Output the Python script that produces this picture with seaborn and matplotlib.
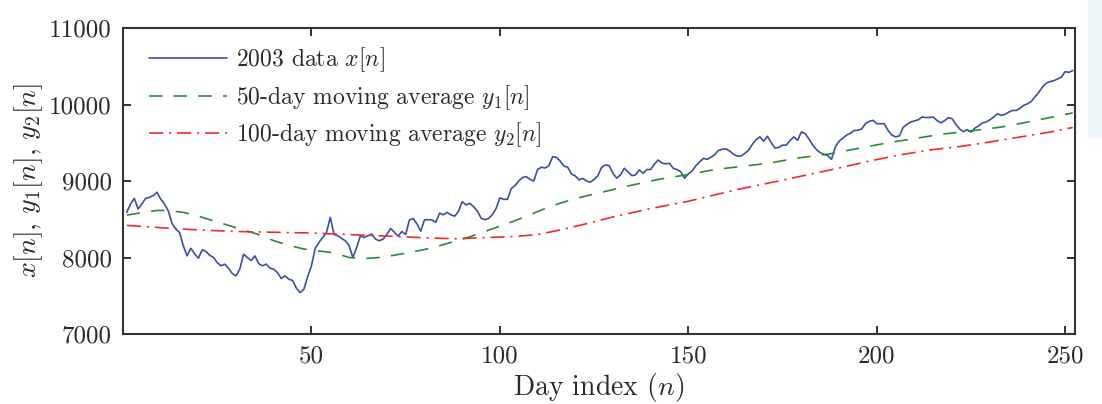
import numpy as np
import pandas as pd
import matplotlib
matplotlib.use("Agg")
import matplotlib.pyplot as plt
import seaborn as sns
from matplotlib.patches import Rectangle

# ---------------- data ----------------
x_data = [
    8590, 8700, 8773, 8634, 8700, 8773, 8787, 8808, 8852, 8765,
    8700, 8612, 8450, 8371, 8328, 8153, 8022, 8120, 8050, 7990,
    8100, 8080, 8030, 8000, 7934, 7891, 7913, 7860, 7790, 7760,
    7850, 8044, 8000, 7960, 8022, 7920, 7891, 7913, 7860, 7847,
    7803, 7725, 7760, 7716, 7700, 7600, 7541, 7585, 7750, 7891,
    8120, 8197, 8262, 8328, 8524, 8300, 8284, 8250, 8219, 8153,
    8000, 8131, 8284, 8262, 8284, 8306, 8240, 8219, 8240, 8300,
    8380, 8330, 8280, 8340, 8300, 8490, 8510, 8440, 8344, 8494,
    8494, 8490, 8460, 8580, 8558, 8590, 8558, 8540, 8600, 8730,
    8687, 8708, 8665, 8610, 8515, 8494, 8510, 8560, 8640, 8780,
    8760, 8760, 8900, 8940, 9000, 9045, 9058, 9020, 9000, 9150,
    9180, 9170, 9200, 9317, 9309, 9260, 9195, 9180, 9090, 9067,
    9015, 9035, 9000, 8985, 9020, 9070, 9180, 9209, 9200, 9100,
    9037, 9080, 9166, 9120, 9070, 9080, 9145, 9101, 9150, 9150,
    9220, 9274, 9235, 9225, 9231, 9166, 9150, 9120, 9037, 9093,
    9130, 9200, 9250, 9296, 9283, 9310, 9345, 9400, 9415, 9420,
    9390, 9350, 9326, 9326, 9360, 9404, 9480, 9540, 9577, 9520,
    9585, 9500, 9430, 9440, 9469, 9469, 9530, 9577, 9533, 9641,
    9620, 9550, 9470, 9410, 9370, 9350, 9330, 9283, 9447, 9520,
    9560, 9600, 9625, 9660, 9663, 9680, 9750, 9780, 9793, 9749,
    9749, 9749, 9660, 9600, 9577, 9590, 9700, 9740, 9771, 9785,
    9800, 9836, 9830, 9830, 9836, 9790, 9760, 9790, 9827, 9814,
    9740, 9680, 9645, 9672, 9641, 9690, 9720, 9758, 9770, 9800,
    9836, 9879, 9857, 9870, 9900, 9922, 9922, 9950, 9990, 10009,
    10040, 10100, 10160, 10230, 10280, 10300, 10311, 10335, 10357, 10430,
    10420, 10445,
]
x_days = list(range(1, len(x_data) + 1))

y1_days = [1, 5, 9, 12, 16, 20, 24, 28, 32, 36, 40, 44, 48, 52, 56, 60, 64,
           68, 72, 76, 80, 84, 88, 92, 96, 100, 104, 108, 112, 116, 120, 126,
           134, 142, 150, 157, 164, 171, 179, 187, 195, 203, 210, 217, 225,
           233, 240, 246, 252]
y1_vals = [8555, 8585, 8615, 8615, 8590, 8540, 8480, 8420, 8360, 8300, 8220,
           8160, 8110, 8085, 8060, 8000, 7985, 8000, 8030, 8065, 8105, 8155,
           8210, 8270, 8340, 8410, 8480, 8560, 8640, 8710, 8770, 8840, 8935,
           9020, 9085, 9150, 9190, 9230, 9300, 9350, 9425, 9500, 9555, 9610,
           9655, 9705, 9770, 9830, 9890]

y2_days = [1, 10, 20, 30, 40, 50, 60, 70, 80, 88, 96, 104, 110, 116, 122,
           130, 140, 150, 158, 166, 174, 182, 190, 198, 206, 214, 222, 230,
           238, 246, 252]
y2_vals = [8420, 8390, 8360, 8340, 8330, 8320, 8300, 8280, 8258, 8245, 8260,
           8275, 8300, 8360, 8430, 8530, 8640, 8735, 8830, 8920, 9000, 9085,
           9170, 9260, 9340, 9405, 9450, 9510, 9575, 9640, 9700]

labels = [r"2003 data $x[n]$",
          r"50-day moving average $y_1[n]$",
          r"100-day moving average $y_2[n]$"]
x_ticks = [50, 100, 150, 200, 250]
y_ticks = [7000, 8000, 9000, 10000, 11000]
xlabel = r"Day index $(n)$"
ylabel = r"$x[n]$, $y_1[n]$, $y_2[n]$"

# ---------------- style ----------------
sns.set_style("ticks")
plt.rcParams["font.family"] = ["cmr10", "DejaVu Serif"]
plt.rcParams["mathtext.fontset"] = "cm"
plt.rcParams["axes.formatter.use_mathtext"] = True
plt.rcParams["axes.unicode_minus"] = False

TXT = "#2a2a2a"
BLUE = "#3c4ea6"
GREEN = "#2a8a3a"
RED = "#f22a2a"

fig = plt.figure(figsize=(11.02, 4.04), dpi=100)
ax = fig.add_axes([123 / 1102, 1 - 334 / 404, (1075 - 123) / 1102, (334 - 28) / 404])

df_x = pd.DataFrame({"n": x_days, "v": x_data})
df_1 = pd.DataFrame({"n": y1_days, "v": y1_vals})
df_2 = pd.DataFrame({"n": y2_days, "v": y2_vals})

sns.lineplot(data=df_x, x="n", y="v", ax=ax, color=BLUE, lw=1.2, label=labels[0])
sns.lineplot(data=df_1, x="n", y="v", ax=ax, color=GREEN, lw=1.2, label=labels[1])
sns.lineplot(data=df_2, x="n", y="v", ax=ax, color=RED, lw=1.2, label=labels[2])
lines = ax.get_lines()
lines[1].set_dashes((8.0, 6.8))
lines[2].set_dashes((8.5, 3.5, 1.3, 3.5))

ax.set_xlim(0, 252.6)
ax.set_ylim(7000, 11000)
ax.set_xticks(x_ticks)
ax.set_yticks(y_ticks)
ax.set_xticklabels([str(t) for t in x_ticks])
ax.set_yticklabels([str(t) for t in y_ticks])
ax.tick_params(direction="in", length=6, width=1.4, colors="#333333",
               top=True, right=True, labelsize=18, labelcolor=TXT, pad=8)
for s in ax.spines.values():
    s.set_visible(True)
    s.set_color("#333333")
    s.set_linewidth(1.5)

ax.set_xlabel(xlabel, fontsize=20, color=TXT, labelpad=3)
ax.set_ylabel(ylabel, fontsize=20, color=TXT, labelpad=3)

handles, labs = ax.get_legend_handles_labels()
leg = ax.legend(handles, labs, loc="upper left", bbox_to_anchor=(0.0, 1.027),
                frameon=False, fontsize=17, handlelength=3.3,
                handletextpad=0.38, labelspacing=0.36, borderaxespad=0.7)
for t in leg.get_texts():
    t.set_color(TXT)

# light page panel at right edge
fig.patches.append(Rectangle((1088 / 1102, 1 - 137 / 404), 14 / 1102, 137 / 404,
                             transform=fig.transFigure, color="#eef6fa", zorder=-1))

fig.savefig("out.png", dpi=100)
